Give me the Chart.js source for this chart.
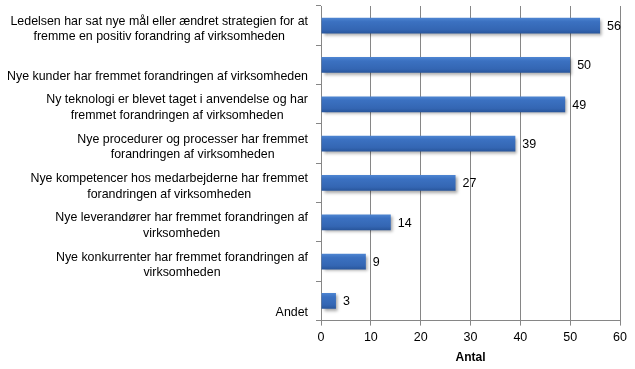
<!DOCTYPE html>
<html>
<head>
<meta charset="utf-8">
<script src="https://cdn.jsdelivr.net/npm/chart.js@4"></script>
<style>
	html, body { margin:0; padding:0; background:#fff; }
	#wrap { width:635px; height:369px; }
</style>
</head>
<body>
<div id="wrap"><canvas id="chart" width="635" height="369"></canvas></div>
<script>
// Antal virksomheder pr. forandringsårsag
const categories = [
	['Ledelsen har sat nye mål eller ændret strategien for at', 'fremme en positiv forandring af virksomheden'],
	['Nye kunder har fremmet forandringen af virksomheden'],
	['Ny teknologi er blevet taget i anvendelse og har', 'fremmet forandringen af virksomheden'],
	['Nye procedurer og processer har fremmet', 'forandringen af virksomheden'],
	['Nye kompetencer hos medarbejderne har fremmet', 'forandringen af virksomheden'],
	['Nye leverandører har fremmet forandringen af', 'virksomheden'],
	['Nye konkurrenter har fremmet forandringen af', 'virksomheden'],
	['Andet']
];
const antal = [56, 50, 49, 39, 27, 14, 9, 3];
const xTicks = [0, 10, 20, 30, 40, 50, 60];
const axisTitle = 'Antal';

const FONT = '"Liberation Sans", Arial, sans-serif';
const LABEL_RIGHT = 308;
const LINE_H = 15.5;

// bar fill: light top edge, darker bottom, like the old office look
function barFill(ctx){
	const chart = ctx.chart;
	const y = chart.scales && chart.scales.y;
	const c = y ? y.getPixelForValue(ctx.dataIndex) : NaN;
	if(!isFinite(c)) return '#3a6fc0';
	const g = chart.ctx.createLinearGradient(0, c - 8, 0, c + 8);
	g.addColorStop(0, '#4f86d2');
	g.addColorStop(0.25, '#3b71c1');
	g.addColorStop(0.75, '#3466b3');
	g.addColorStop(1, '#28559a');
	return g;
}

const shadowPlugin = {
	id: 'barShadow',
	beforeDatasetsDraw(chart){
		const c = chart.ctx;
		c.save();
		c.shadowColor = 'rgba(0,0,0,0.35)';
		c.shadowOffsetX = 2;
		c.shadowOffsetY = 2;
		c.shadowBlur = 3;
	},
	afterDatasetsDraw(chart){
		chart.ctx.restore();
	}
};

// value labels to the right of each bar
const valueLabels = {
	id: 'valueLabels',
	afterDatasetsDraw(chart){
		const c = chart.ctx;
		const meta = chart.getDatasetMeta(0);
		c.save();
		c.font = '12.5px ' + FONT;
		c.fillStyle = '#000';
		c.textAlign = 'left';
		c.textBaseline = 'middle';
		meta.data.forEach((bar, i) => {
			c.fillText(String(antal[i]), bar.x + 7, bar.y + 1);
		});
		c.restore();
	}
};

// category labels: block right aligned, lines centred within block, sitting at band bottom
const catLabels = {
	id: 'catLabels',
	afterDraw(chart){
		const c = chart.ctx;
		const y = chart.scales.y;
		const band = y.height / categories.length;
		c.save();
		c.font = '12.4px ' + FONT;
		c.fillStyle = '#000';
		c.textAlign = 'center';
		c.textBaseline = 'middle';
		categories.forEach((lines, i) => {
			const w = Math.max(...lines.map(l => c.measureText(l).width));
			const cx = LABEL_RIGHT - w / 2;
			const bottom = y.getPixelForValue(i) + band / 2;
			lines.forEach((l, k) => {
				const ly = bottom - 8.5 - (lines.length - 1 - k) * LINE_H;
				c.fillText(l, cx, ly);
			});
		});
		c.restore();
	}
};

new Chart(document.getElementById('chart'), {
	type: 'bar',
	data: {
		labels: categories.map(l => l.join(' ')),
		datasets: [{
			data: antal,
			backgroundColor: barFill,
			borderWidth: 0,
			barPercentage: 0.4,
			categoryPercentage: 1
		}]
	},
	options: {
		indexAxis: 'y',
		responsive: false,
		animation: false,
		layout: { padding: { top: 6, right: 15, left: 0, bottom: 4 } },
		plugins: { legend: { display: false }, tooltip: { enabled: false } },
		scales: {
			x: {
				min: xTicks[0],
				max: xTicks[xTicks.length - 1],
				afterBuildTicks(scale){ scale.ticks = xTicks.map(v => ({ value: v })); },
				grid: { color: '#868686', lineWidth: 1, tickLength: 5, drawTicks: true },
				border: { color: '#868686' },
				ticks: { color: '#000', font: { family: FONT, size: 12.5 }, padding: 4 },
				title: { display: true, text: axisTitle, color: '#000', font: { family: FONT, size: 12, weight: 'bold' }, padding: { top: 2, bottom: 0 } }
			},
			y: {
				afterFit(scale){ scale.width = 321; },
				grid: { display: true, drawOnChartArea: false, offset: true, tickLength: 5, color: '#868686' },
				border: { color: '#868686' },
				ticks: { display: false }
			}
		}
	},
	plugins: [shadowPlugin, valueLabels, catLabels]
});
</script>
</body>
</html>
